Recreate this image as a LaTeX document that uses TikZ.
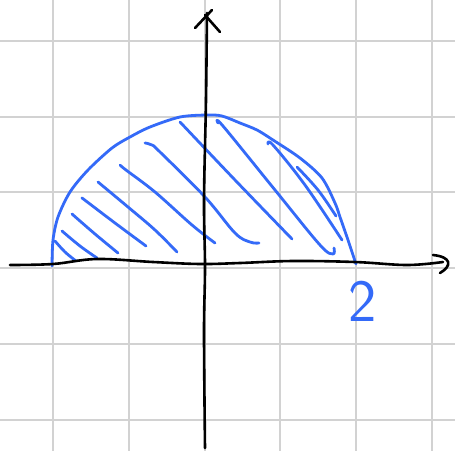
\documentclass[tikz,border=0pt]{standalone}
\definecolor{penblue}{RGB}{52,106,248}
\definecolor{gridgray}{RGB}{210,210,210}
\begin{document}
\begin{tikzpicture}[x=1pt,y=-1pt,
  gridline/.style={draw=gridgray,line width=2pt},
  axisline/.style={draw=black,line width=2.6pt,line cap=round,line join=round},
  blueline/.style={draw=penblue,line width=2.8pt,line cap=round,line join=round},
  hatchline/.style={blueline}]
\useasboundingbox (0,0) rectangle (455,451);
\fill[white] (0,0) rectangle (455,451);
% grid
\foreach \g in {53,128.75,204.5,280.25,356,431.75} \draw[gridline] (\g,0) -- (\g,451);
\foreach \g in {40.75,116.5,192.25,268,343.75,419.5} \draw[gridline] (0,\g) -- (455,\g);
% hatching
\draw[hatchline] plot[smooth,tension=0.6] coordinates {(55,241) (65,252) (76,261)};
\draw[hatchline] plot[smooth,tension=0.6] coordinates {(62,231) (80,246) (97,258)};
\draw[hatchline] plot[smooth,tension=0.6] coordinates {(72,214) (95,234) (118,253)};
\draw[hatchline] plot[smooth,tension=0.6] coordinates {(82,198) (86,201) (115,223) (146,246)};
\draw[hatchline] plot[smooth,tension=0.6] coordinates {(98,182) (128,207) (155,230) (177,252)};
\draw[hatchline] plot[smooth,tension=0.6] coordinates {(120,165) (126,170) (155,192) (192,225) (215,243)};
\draw[hatchline] plot[smooth,tension=0.6] coordinates {(145,143) (152,145) (160,152) (205,197) (235,233) (250,242) (259,243)};
\draw[hatchline] plot[smooth,tension=0.6] coordinates {(180,122) (235,180) (292,239)};
\draw[hatchline] plot[smooth,tension=0.6] coordinates {(218,123) (223,126) (275,190) (320,245) (333,254) (334,248)};
\draw[hatchline] plot[smooth,tension=0.6] coordinates {(268,144) (273,145) (305,185) (342,240)};
\draw[hatchline] plot[smooth,tension=0.6] coordinates {(297,167) (318,190) (336,216)};
% boundary
\draw[blueline] plot[smooth,tension=0.5] coordinates {(52,266) (53,240) (58,217) (70,192) (88,170) (112,148) (130,137) (150,127) (180,117) (207,115) (222,116) (240,123) (257,130) (273,140) (300,158) (322,178) (335,203) (340,217) (348,240) (356,264)};
% axes
\draw[axisline] plot[smooth,tension=0.6] coordinates {(10,265) (53,264) (97,259) (153,262) (200,264) (240,263) (293,261) (355,262) (407,265) (443,262)};
\draw[axisline] (433,255) .. controls (452,257) and (452,266) .. (440,273);
\draw[axisline] plot[smooth,tension=0.6] coordinates {(205,448) (204,333) (205,267) (204,200) (206,100) (207,13)};
\draw[axisline] (195,28) -- (212,10);
\draw[axisline] (205,15) -- (220,32);
% label
\node[text=penblue,inner sep=0pt,font=\sffamily\fontsize{60}{60}\selectfont] (two) at (363,301) {2};
\end{tikzpicture}
\end{document}
